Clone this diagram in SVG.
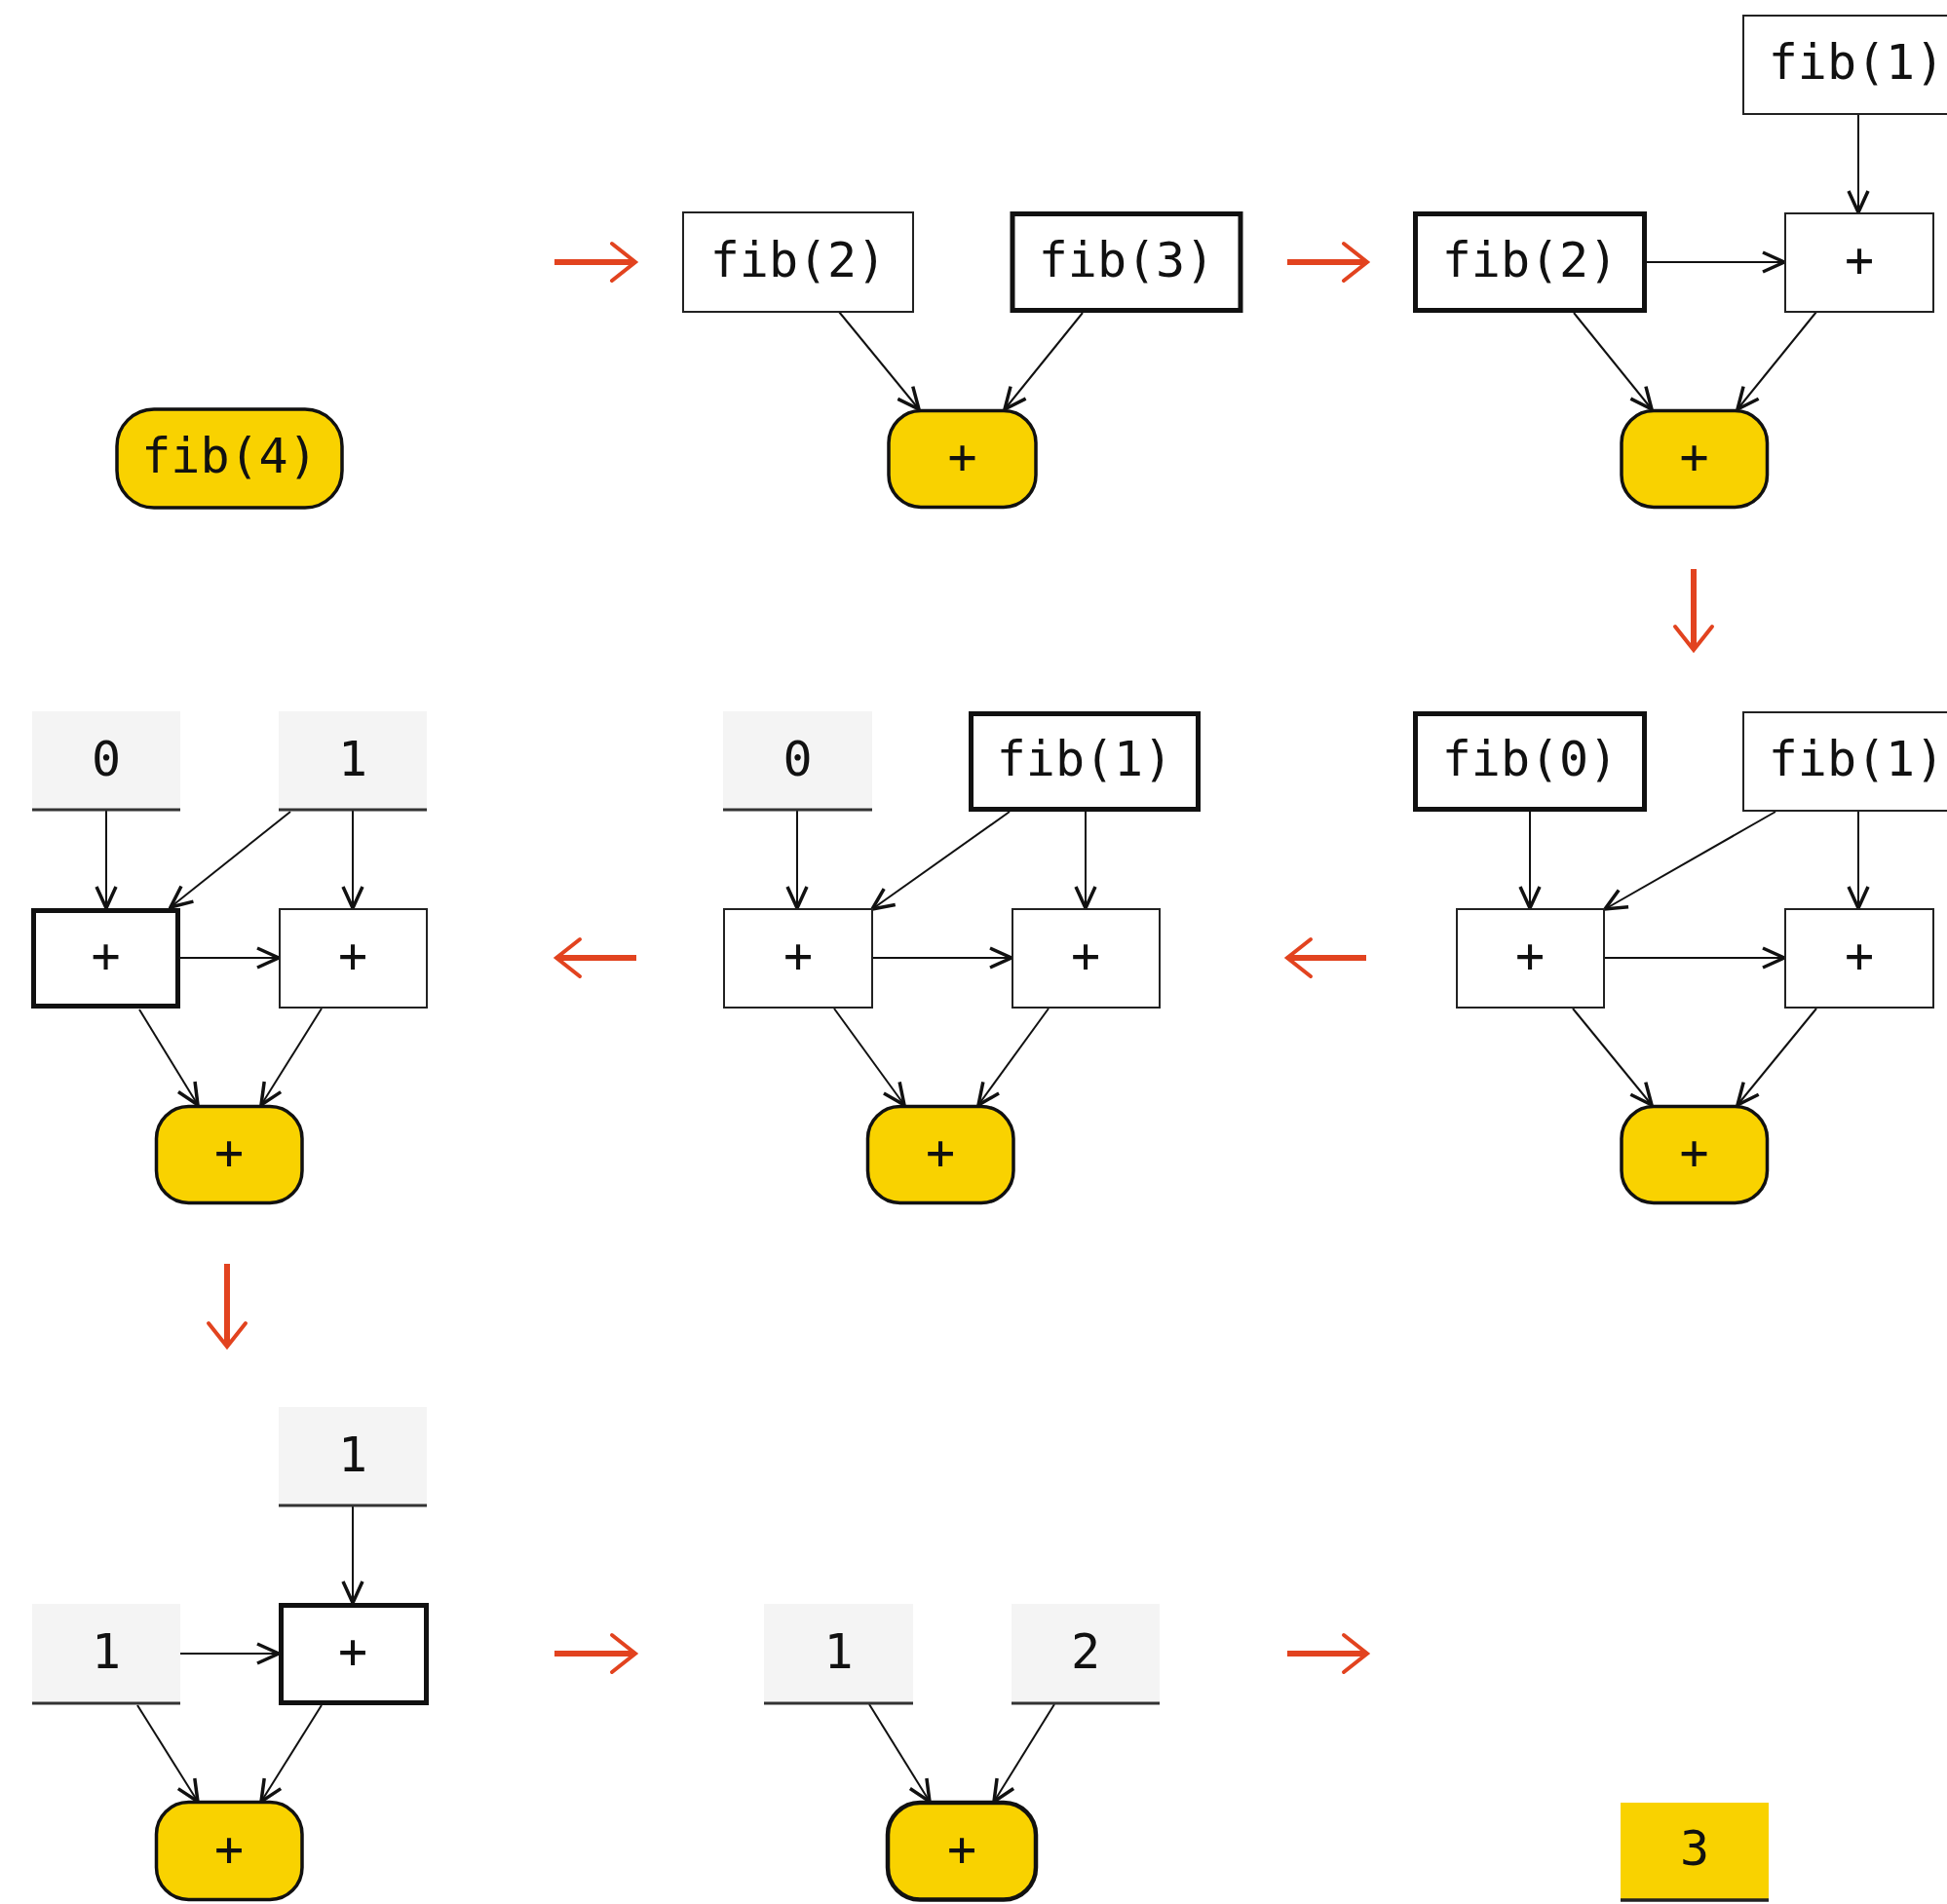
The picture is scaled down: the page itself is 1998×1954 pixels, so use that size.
<svg xmlns="http://www.w3.org/2000/svg" width="1998" height="1954" viewBox="0 0 1998 1954">
<style>
text{font-family:"DejaVu Sans Mono","Liberation Mono",monospace;font-size:50px;fill:#111;text-anchor:middle}
.thin{fill:#fff;stroke:#222;stroke-width:2}
.thick{fill:#fff;stroke:#111;stroke-width:5}
.pill{fill:#F9D200;stroke:#111;stroke-width:3.5}
.gray{fill:#F4F4F4;stroke:none}
.uline{stroke:#333;stroke-width:3}
.edge{stroke:#111;stroke-width:2;fill:none;marker-end:url(#ah)}
.step{stroke:#E2431F;stroke-width:6;fill:none}
.stephead{stroke:#E2431F;stroke-width:4;fill:none;stroke-linecap:round;stroke-linejoin:miter}
</style>
<defs>
<marker id="ah" viewBox="0 0 26 24" refX="24" refY="12" markerWidth="26" markerHeight="24" markerUnits="userSpaceOnUse" orient="auto">
<path d="M2,2 L24,12 L2,22" fill="none" stroke="#111" stroke-width="3.5"/>
</marker>
</defs>
<rect width="1998" height="1954" fill="#fff"/>

<!-- step arrows -->
<g id="steps">
<path class="step" d="M569,269 H649"/><path class="stephead" d="M628,250 L652,269 L628,288"/>
<path class="step" d="M1321,269 H1400"/><path class="stephead" d="M1379,250 L1403,269 L1379,288"/>
<path class="step" d="M1738,584 V664"/><path class="stephead" d="M1719,643 L1738,667 L1757,643"/>
<path class="step" d="M1402,983 H1324"/><path class="stephead" d="M1345,964 L1321,983 L1345,1002"/>
<path class="step" d="M653,983 H574"/><path class="stephead" d="M595,964 L571,983 L595,1002"/>
<path class="step" d="M233,1297 V1379"/><path class="stephead" d="M214,1358 L233,1382 L252,1358"/>
<path class="step" d="M569,1697 H649"/><path class="stephead" d="M628,1678 L652,1697 L628,1716"/>
<path class="step" d="M1321,1697 H1400"/><path class="stephead" d="M1379,1678 L1403,1697 L1379,1716"/>
</g>

<!-- connectors -->
<g id="connectors">
<!-- panel 2 -->
<line class="edge" x1="861" y1="320" x2="943" y2="420"/>
<line class="edge" x1="1111" y1="321" x2="1031" y2="420"/>
<!-- panel 3 -->
<line class="edge" x1="1907" y1="117" x2="1907" y2="218"/>
<line class="edge" x1="1690" y1="269" x2="1831" y2="269"/>
<line class="edge" x1="1615" y1="321" x2="1695" y2="420"/>
<line class="edge" x1="1864" y1="320" x2="1783" y2="420"/>
<!-- panel 4 -->
<line class="edge" x1="1570" y1="833" x2="1570" y2="932"/>
<line class="edge" x1="1822" y1="833" x2="1647" y2="933"/>
<line class="edge" x1="1907" y1="832" x2="1907" y2="932"/>
<line class="edge" x1="1646" y1="983" x2="1831" y2="983"/>
<line class="edge" x1="1614" y1="1035" x2="1695" y2="1134"/>
<line class="edge" x1="1864" y1="1035" x2="1783" y2="1134"/>
<!-- panel 5 -->
<line class="edge" x1="818" y1="832" x2="818" y2="932"/>
<line class="edge" x1="1036" y1="833" x2="895" y2="933"/>
<line class="edge" x1="1114" y1="833" x2="1114" y2="932"/>
<line class="edge" x1="895" y1="983" x2="1038" y2="983"/>
<line class="edge" x1="856" y1="1035" x2="928" y2="1134"/>
<line class="edge" x1="1076" y1="1035" x2="1004" y2="1134"/>
<!-- panel 6 -->
<line class="edge" x1="109" y1="832" x2="109" y2="932"/>
<line class="edge" x1="362" y1="832" x2="362" y2="932"/>
<line class="edge" x1="298" y1="833" x2="175" y2="931"/>
<line class="edge" x1="185" y1="983" x2="286" y2="983"/>
<line class="edge" x1="143" y1="1036" x2="203" y2="1134"/>
<line class="edge" x1="330" y1="1035" x2="268" y2="1134"/>
<!-- panel 7 -->
<line class="edge" x1="362" y1="1546" x2="362" y2="1645"/>
<line class="edge" x1="185" y1="1697" x2="286" y2="1697"/>
<line class="edge" x1="141" y1="1750" x2="203" y2="1849"/>
<line class="edge" x1="330" y1="1750" x2="268" y2="1849"/>
<!-- panel 8 -->
<line class="edge" x1="892" y1="1749" x2="954" y2="1849"/>
<line class="edge" x1="1082" y1="1749" x2="1020" y2="1849"/>
</g>

<!-- panel 1 -->
<g id="p1-fib4"><rect class="pill" x="120" y="420" width="231" height="101" rx="38"/><text x="235.5" y="485">fib(4)</text></g>

<!-- panel 2 -->
<g id="p2-fib2"><rect class="thin" x="701" y="218" width="236" height="102"/><text x="819" y="284">fib(2)</text></g>
<g id="p2-fib3"><rect class="thick" x="1039" y="219.5" width="234" height="99"/><text x="1156" y="284">fib(3)</text></g>
<g id="p2-plus"><rect class="pill" x="912" y="421.5" width="151" height="99" rx="33"/><text x="987.5" y="486">+</text></g>

<!-- panel 3 -->
<g id="p3-fib1"><rect class="thin" x="1789" y="16" width="238" height="101"/><text x="1905" y="81">fib(1)</text></g>
<g id="p3-fib2"><rect class="thick" x="1452.5" y="219.5" width="235" height="99"/><text x="1570" y="284">fib(2)</text></g>
<g id="p3-plusbox"><rect class="thin" x="1832" y="219" width="152" height="101"/><text x="1908" y="284">+</text></g>
<g id="p3-plus"><rect class="pill" x="1664" y="421.5" width="149.5" height="99" rx="33"/><text x="1738.5" y="486">+</text></g>

<!-- panel 4 -->
<g id="p4-fib0"><rect class="thick" x="1452.5" y="732.5" width="235" height="98"/><text x="1570" y="796">fib(0)</text></g>
<g id="p4-fib1"><rect class="thin" x="1789" y="731" width="238" height="101"/><text x="1905" y="796">fib(1)</text></g>
<g id="p4-plusL"><rect class="thin" x="1495" y="933" width="151" height="101"/><text x="1570" y="998">+</text></g>
<g id="p4-plusR"><rect class="thin" x="1832" y="933" width="152" height="101"/><text x="1908" y="998">+</text></g>
<g id="p4-plus"><rect class="pill" x="1664" y="1135.5" width="149.5" height="99" rx="33"/><text x="1738.5" y="1200">+</text></g>

<!-- panel 5 -->
<g id="p5-zero"><rect class="gray" x="742" y="730" width="153" height="101"/><line class="uline" x1="742" y1="831" x2="895" y2="831"/><text x="818.5" y="796">0</text></g>
<g id="p5-fib1"><rect class="thick" x="996.5" y="732.5" width="233" height="98"/><text x="1113" y="796">fib(1)</text></g>
<g id="p5-plusL"><rect class="thin" x="743" y="933" width="152" height="101"/><text x="819" y="998">+</text></g>
<g id="p5-plusR"><rect class="thin" x="1039" y="933" width="151" height="101"/><text x="1114" y="998">+</text></g>
<g id="p5-plus"><rect class="pill" x="890.5" y="1135.5" width="149.5" height="99" rx="33"/><text x="965" y="1200">+</text></g>

<!-- panel 6 -->
<g id="p6-zero"><rect class="gray" x="33" y="730" width="152" height="101"/><line class="uline" x1="33" y1="831" x2="185" y2="831"/><text x="109" y="796">0</text></g>
<g id="p6-one"><rect class="gray" x="286" y="730" width="152" height="101"/><line class="uline" x1="286" y1="831" x2="438" y2="831"/><text x="362" y="796">1</text></g>
<g id="p6-plusL"><rect class="thick" x="34.5" y="934.5" width="148" height="98"/><text x="108.5" y="998">+</text></g>
<g id="p6-plusR"><rect class="thin" x="287" y="933" width="151" height="101"/><text x="362" y="998">+</text></g>
<g id="p6-plus"><rect class="pill" x="160.5" y="1135.5" width="149.5" height="99" rx="33"/><text x="235" y="1200">+</text></g>

<!-- panel 7 -->
<g id="p7-one-top"><rect class="gray" x="286" y="1444" width="152" height="101"/><line class="uline" x1="286" y1="1545" x2="438" y2="1545"/><text x="362" y="1510">1</text></g>
<g id="p7-one-left"><rect class="gray" x="33" y="1646" width="152" height="102"/><line class="uline" x1="33" y1="1748" x2="185" y2="1748"/><text x="109" y="1712">1</text></g>
<g id="p7-plusbox"><rect class="thick" x="288.5" y="1647.5" width="149" height="100"/><text x="362" y="1712">+</text></g>
<g id="p7-plus"><rect class="pill" x="160.5" y="1849.5" width="149.5" height="100" rx="33"/><text x="235" y="1915">+</text></g>

<!-- panel 8 -->
<g id="p8-one"><rect class="gray" x="784" y="1646" width="153" height="102"/><line class="uline" x1="784" y1="1748" x2="937" y2="1748"/><text x="860.5" y="1712">1</text></g>
<g id="p8-two"><rect class="gray" x="1038" y="1646" width="152" height="102"/><line class="uline" x1="1038" y1="1748" x2="1190" y2="1748"/><text x="1114" y="1712">2</text></g>
<g id="p8-plus"><rect class="pill" x="911" y="1850" width="152" height="99.5" rx="33" style="stroke-width:4.5"/><text x="987" y="1915">+</text></g>

<!-- panel 9 -->
<g id="p9-three"><rect x="1663" y="1850" width="152" height="99" fill="#F9D200"/><line x1="1663" y1="1950" x2="1815" y2="1950" stroke="#222" stroke-width="3.5"/><text x="1739" y="1914">3</text></g>
</svg>
